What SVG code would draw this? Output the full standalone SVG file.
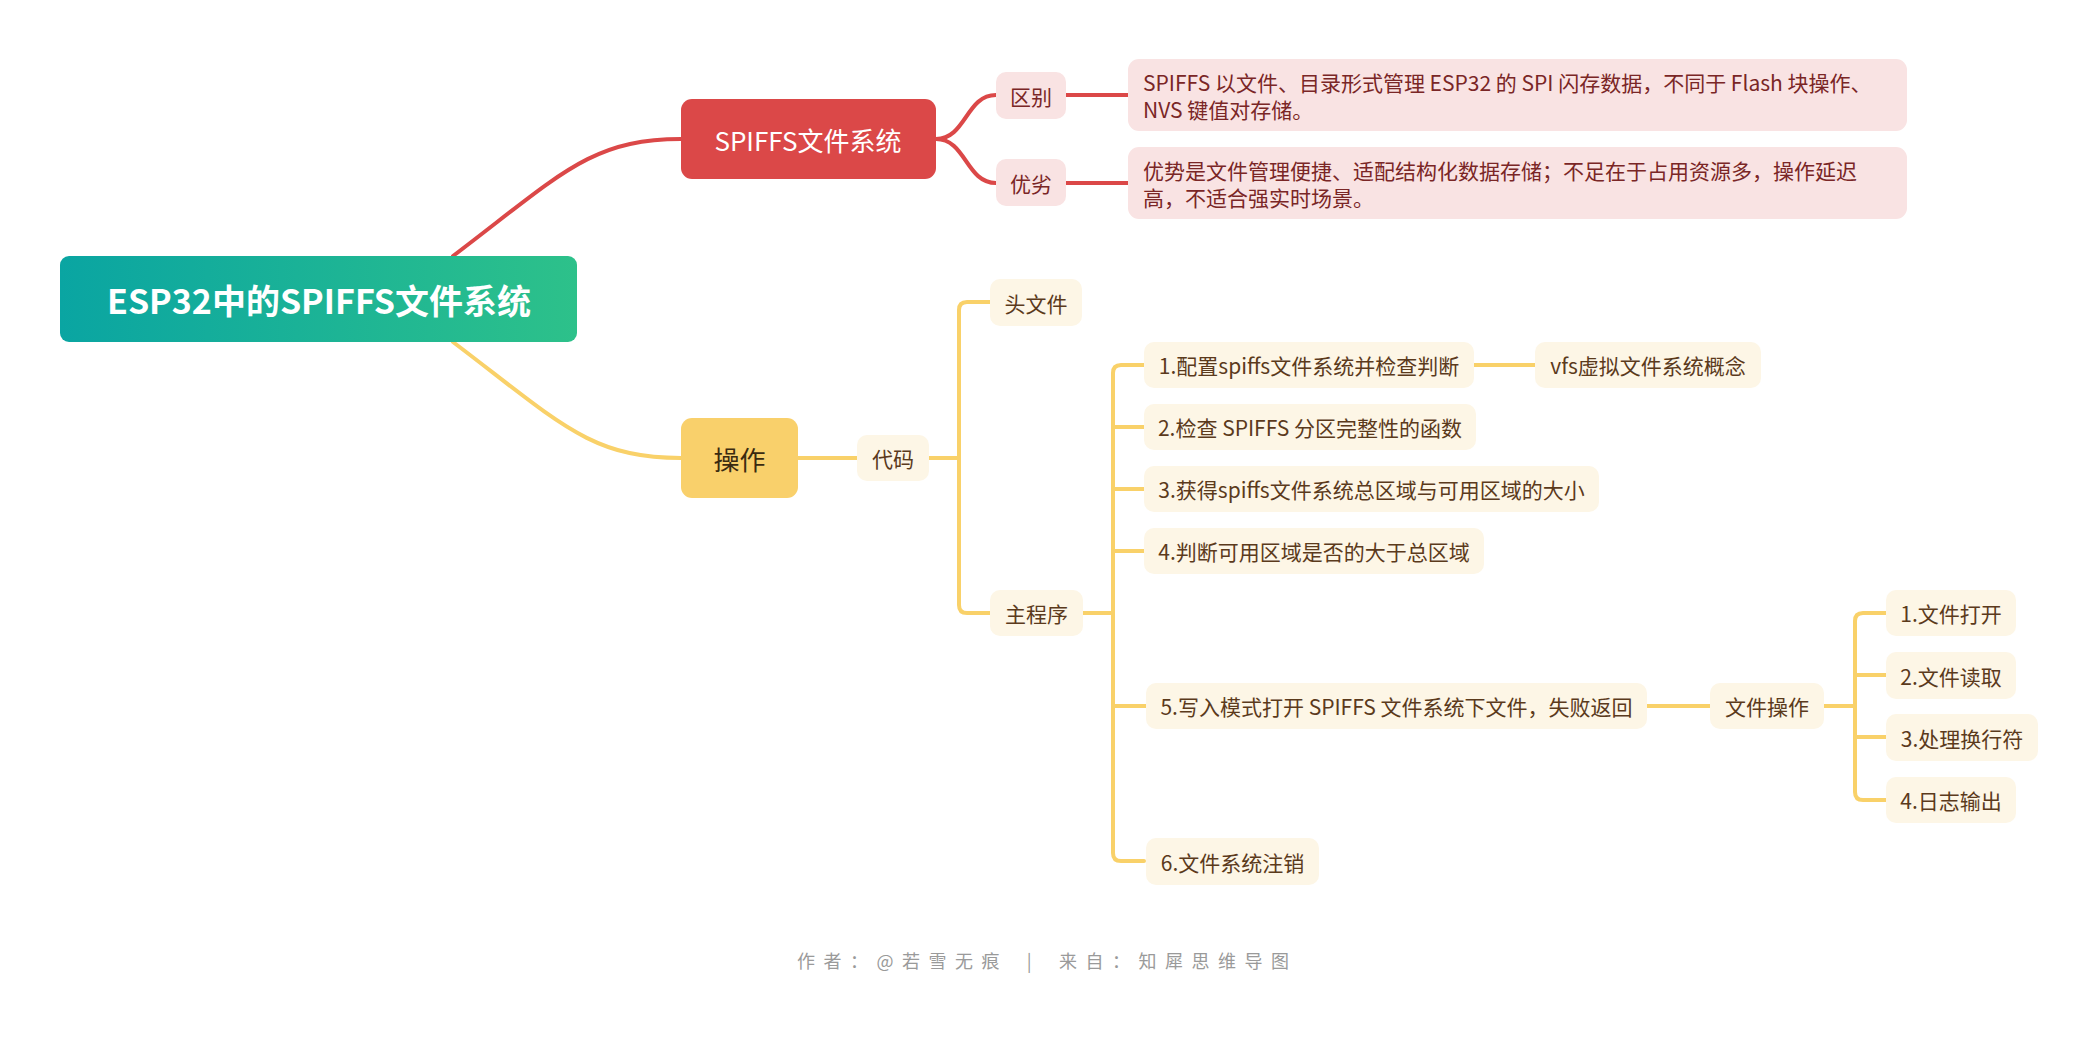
<svg xmlns="http://www.w3.org/2000/svg" width="2095" height="1039" viewBox="0 0 2095 1039">
<defs>
<linearGradient id="rootGrad" x1="0" y1="0" x2="1" y2="0">
<stop offset="0" stop-color="#0AA5A2"/>
<stop offset="1" stop-color="#2DC18A"/>
</linearGradient>
<style>
text{font-family:"Noto Sans CJK SC","Microsoft YaHei","Noto Sans",sans-serif;dominant-baseline:central}
.mid{text-anchor:middle}
.red{fill:none;stroke:#DB4848;stroke-width:4;stroke-linecap:round}
.yel{fill:none;stroke:#F9D169;stroke-width:4;stroke-linecap:round}
.pink{fill:#F9E3E3}
.pt{font-size:21px;fill:#7A2626}
.cream{fill:#FDF6E6}
.ct{font-size:21px;fill:#5B3A1C}
.l1t{font-size:26px}
</style>
</defs>
<rect width="2095" height="1039" fill="#FFFFFF"/>
<g id="connectors">
<path class="red" d="M453,256 C560,175 590,139 681,139"/>
<path class="yel" d="M453,342 C560,423 590,458 681,458"/>
<path class="red" d="M936,139 C966,139 966,95 996,95"/>
<path class="red" d="M936,139 C966,139 966,183 996,183"/>
<path class="red" d="M1066,95 H1128"/>
<path class="red" d="M1066,183 H1128"/>
<path class="yel" d="M798,458 H857"/>
<path class="yel" d="M929,458 H959"/>
<path class="yel" d="M990,302 H967 Q959,302 959,310 V605 Q959,613 967,613 H990"/>
<path class="yel" d="M1083,613 H1113"/>
<path class="yel" d="M1144,365 H1121 Q1113,365 1113,373 V853 Q1113,861 1121,861 H1144"/>
<path class="yel" d="M1113,427 H1144 M1113,489 H1144 M1113,551 H1144 M1113,706 H1146"/>
<path class="yel" d="M1474,365 H1535"/>
<path class="yel" d="M1647,706 H1710"/>
<path class="yel" d="M1824,706 H1855"/>
<path class="yel" d="M1886,613 H1863 Q1855,613 1855,621 V792 Q1855,800 1863,800 H1886"/>
<path class="yel" d="M1855,675 H1886 M1855,737 H1886"/>
</g>
<g id="root">
<rect x="60" y="256" width="517" height="86" rx="9" fill="url(#rootGrad)"/>
<text class="mid" x="319" y="299" font-size="34" font-weight="bold" fill="#FFFFFF">ESP32中的SPIFFS文件系统</text>
</g>
<g id="n-spiffs">
<rect x="681" y="99" width="255" height="80" rx="11" fill="#DB4848"/>
<text class="mid l1t" x="808" y="139" fill="#FFFFFF">SPIFFS文件系统</text>
</g>
<g id="n-qubie">
<rect class="pink" x="996" y="72" width="70" height="47" rx="10"/>
<text class="mid pt" x="1031" y="95.5">区别</text>
</g>
<g id="n-qubie-desc">
<rect class="pink" x="1128" y="59" width="779" height="72" rx="11"/>
<text class="pt" x="1143" y="82">SPIFFS 以文件、目录形式管理 ESP32 的 SPI 闪存数据，不同于 Flash 块操作、</text>
<text class="pt" x="1143" y="109">NVS 键值对存储。</text>
</g>
<g id="n-youlie">
<rect class="pink" x="996" y="159" width="70" height="47" rx="10"/>
<text class="mid pt" x="1031" y="182.5">优劣</text>
</g>
<g id="n-youlie-desc">
<rect class="pink" x="1128" y="147" width="779" height="72" rx="11"/>
<text class="pt" x="1143" y="170">优势是文件管理便捷、适配结构化数据存储；不足在于占用资源多，操作延迟</text>
<text class="pt" x="1143" y="197">高，不适合强实时场景。</text>
</g>
<g id="n-caozuo">
<rect x="681" y="418" width="117" height="80" rx="11" fill="#F9D06B"/>
<text class="mid l1t" x="739.5" y="458" fill="#3A2A10">操作</text>
</g>
<g id="n-daima">
<rect class="cream" x="857" y="435" width="72" height="46" rx="10"/>
<text class="mid ct" x="893" y="458">代码</text>
</g>
<g id="n-toufile">
<rect class="cream" x="990" y="279" width="92" height="47" rx="10"/>
<text class="mid ct" x="1036" y="302.5">头文件</text>
</g>
<g id="n-main">
<rect class="cream" x="990" y="590" width="93" height="46" rx="10"/>
<text class="mid ct" x="1036.5" y="613">主程序</text>
</g>
<g id="n-s1">
<rect class="cream" x="1144" y="342" width="330" height="46" rx="10"/>
<text class="mid ct" x="1309" y="365">1.配置spiffs文件系统并检查判断</text>
</g>
<g id="n-vfs">
<rect class="cream" x="1535" y="342" width="226" height="46" rx="10"/>
<text class="mid ct" x="1648" y="365">vfs虚拟文件系统概念</text>
</g>
<g id="n-s2">
<rect class="cream" x="1144" y="404" width="332" height="46" rx="10"/>
<text class="mid ct" x="1310" y="427">2.检查 SPIFFS 分区完整性的函数</text>
</g>
<g id="n-s3">
<rect class="cream" x="1144" y="466" width="455" height="46" rx="10"/>
<text class="mid ct" x="1371.5" y="489">3.获得spiffs文件系统总区域与可用区域的大小</text>
</g>
<g id="n-s4">
<rect class="cream" x="1144" y="528" width="340" height="46" rx="10"/>
<text class="mid ct" x="1314" y="551">4.判断可用区域是否的大于总区域</text>
</g>
<g id="n-s5">
<rect class="cream" x="1146" y="683" width="501" height="46" rx="10"/>
<text class="mid ct" x="1396.5" y="706">5.写入模式打开 SPIFFS 文件系统下文件，失败返回</text>
</g>
<g id="n-fileop">
<rect class="cream" x="1710" y="683" width="114" height="46" rx="10"/>
<text class="mid ct" x="1767" y="706">文件操作</text>
</g>
<g id="n-f1">
<rect class="cream" x="1886" y="590" width="130" height="46" rx="10"/>
<text class="mid ct" x="1951" y="613">1.文件打开</text>
</g>
<g id="n-f2">
<rect class="cream" x="1886" y="652" width="130" height="47" rx="10"/>
<text class="mid ct" x="1951" y="675.5">2.文件读取</text>
</g>
<g id="n-f3">
<rect class="cream" x="1886" y="714" width="152" height="47" rx="10"/>
<text class="mid ct" x="1962" y="737.5">3.处理换行符</text>
</g>
<g id="n-f4">
<rect class="cream" x="1886" y="777" width="130" height="46" rx="10"/>
<text class="mid ct" x="1951" y="800">4.日志输出</text>
</g>
<g id="n-s6">
<rect class="cream" x="1146" y="838" width="173" height="47" rx="10"/>
<text class="mid ct" x="1232.5" y="861.5">6.文件系统注销</text>
</g>
<g id="footer">
<text x="797" y="960" font-size="18" fill="#9A9A9A" xml:space="preserve" style="white-space:pre" textLength="492" lengthAdjust="spacing">作 者 ： @ 若 雪 无 痕    |    来 自 ： 知 犀 思 维 导 图</text>
</g>
</svg>
